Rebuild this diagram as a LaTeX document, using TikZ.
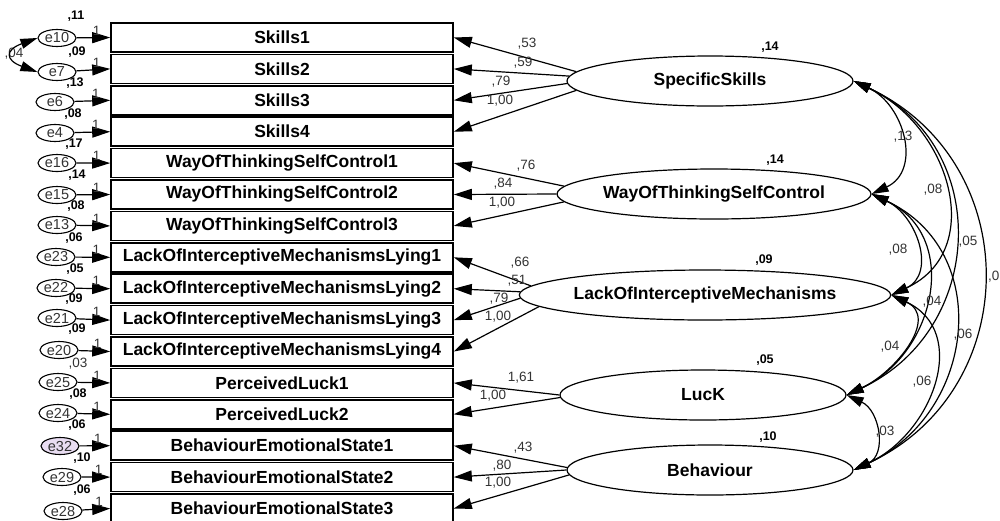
\documentclass[tikz,border=0pt]{standalone}
\usepackage{fontspec}
\setmainfont{Liberation Sans}
\usetikzlibrary{shapes.geometric,arrows.meta}
\definecolor{errfill}{HTML}{E9DDF2}
\definecolor{lblgray}{HTML}{333333}

\begin{document}
\begin{tikzpicture}[x=1pt,y=1pt]
    \tikzset{item/.style={draw, line width=1.6pt, minimum width=342pt, minimum height=29pt, inner sep=0pt, font=\fontsize{17.5}{19}\selectfont\bfseries},
             factor/.style={draw, ellipse, line width=1.2pt, minimum width=286pt, minimum height=50pt, inner sep=0pt, font=\fontsize{17.5}{20}\selectfont\bfseries},
             error/.style={draw, ellipse, line width=1.1pt, minimum width=38pt, minimum height=17pt, inner sep=0pt, text=lblgray, font=\fontsize{14.5}{16}\selectfont},
             coef/.style={text=lblgray, inner sep=0pt, font=\fontsize{13.5}{15}\selectfont},
             var/.style={inner sep=0pt, font=\fontsize{12.5}{14}\selectfont\bfseries},
             load/.style={-{Triangle[length=18pt,width=11pt]}, line width=1.2pt},
             cov/.style={{Triangle[length=17pt,width=10pt]}-{Triangle[length=17pt,width=10pt]}, line width=1.2pt},
             arcright/.style={out=-25, in=25, looseness=1.25}}
    \useasboundingbox (0,0) rectangle (1000,-520);

    % observed items
    \node[item] (sk1) at (282,-37.5) {Skills1};
    \node[item] (sk2) at (282,-68.9) {Skills2};
    \node[item] (sk3) at (282,-100.3) {Skills3};
    \node[item] (sk4) at (282,-131.7) {Skills4};
    \node[item] (wt1) at (282,-163.1) {WayOfThinkingSelfControl1};
    \node[item] (wt2) at (282,-194.5) {WayOfThinkingSelfControl2};
    \node[item] (wt3) at (282,-225.9) {WayOfThinkingSelfControl3};
    \node[item] (lm1) at (282,-257.3) {LackOfInterceptiveMechanismsLying1};
    \node[item] (lm2) at (282,-288.7) {LackOfInterceptiveMechanismsLying2};
    \node[item] (lm3) at (282,-320.1) {LackOfInterceptiveMechanismsLying3};
    \node[item] (lm4) at (282,-351.5) {LackOfInterceptiveMechanismsLying4};
    \node[item] (pl1) at (282,-382.9) {PerceivedLuck1};
    \node[item] (pl2) at (282,-414.3) {PerceivedLuck2};
    \node[item] (be1) at (282,-445.7) {BehaviourEmotionalState1};
    \node[item] (be2) at (282,-477.1) {BehaviourEmotionalState2};
    \node[item] (be3) at (282,-508.5) {BehaviourEmotionalState3};

    % error terms
    \node[error] (e10) at (57,-38) {e10};
    \node[error] (e7) at (57,-72) {e7};
    \node[error] (e6) at (55,-102) {e6};
    \node[error] (e4) at (55,-133) {e4};
    \node[error] (e16) at (57,-163) {e16};
    \node[error] (e15) at (57,-195) {e15};
    \node[error] (e13) at (57,-225) {e13};
    \node[error] (e23) at (56,-257) {e23};
    \node[error] (e22) at (56,-288) {e22};
    \node[error] (e21) at (57,-318) {e21};
    \node[error] (e20) at (59,-350) {e20};
    \node[error] (e25) at (58,-382) {e25};
    \node[error] (e24) at (58,-413) {e24};
    \node[error, fill=errfill] (e32) at (60,-446) {e32};
    \node[error] (e29) at (62,-477) {e29};
    \node[error] (e28) at (63,-511) {e28};

    \draw[load] (e10) -- (sk1.west) node[pos=0.6, above=2pt, coef] (f10) {1};
    \draw[load] (e7) -- (sk2.west) node[pos=0.6, above=2pt, coef] (f7) {1};
    \draw[load] (e6) -- (sk3.west) node[pos=0.6, above=2pt, coef] (f6) {1};
    \draw[load] (e4) -- (sk4.west) node[pos=0.6, above=2pt, coef] (f4) {1};
    \draw[load] (e16) -- (wt1.west) node[pos=0.6, above=2pt, coef] (f16) {1};
    \draw[load] (e15) -- (wt2.west) node[pos=0.6, above=2pt, coef] (f15) {1};
    \draw[load] (e13) -- (wt3.west) node[pos=0.6, above=2pt, coef] (f13) {1};
    \draw[load] (e23) -- (lm1.west) node[pos=0.6, above=2pt, coef] (f23) {1};
    \draw[load] (e22) -- (lm2.west) node[pos=0.6, above=2pt, coef] (f22) {1};
    \draw[load] (e21) -- (lm3.west) node[pos=0.6, above=2pt, coef] (f21) {1};
    \draw[load] (e20) -- (lm4.west) node[pos=0.6, above=2pt, coef] (f20) {1};
    \draw[load] (e25) -- (pl1.west) node[pos=0.6, above=2pt, coef] (f25) {1};
    \draw[load] (e24) -- (pl2.west) node[pos=0.6, above=2pt, coef] (f24) {1};
    \draw[load] (e32) -- (be1.west) node[pos=0.6, above=2pt, coef] (f32) {1};
    \draw[load] (e29) -- (be2.west) node[pos=0.6, above=2pt, coef] (f29) {1};
    \draw[load] (e28) -- (be3.west) node[pos=0.6, above=2pt, coef] (f28) {1};

    % error variances
    \node[var] (v10) at (76,-16) {,11};
    \node[var] (v7) at (77,-52) {,09};
    \node[var] (v6) at (75,-83) {,13};
    \node[var] (v4) at (73,-114) {,08};
    \node[var] (v16) at (74,-144) {,17};
    \node[var] (v15) at (77,-175) {,14};
    \node[var] (v13) at (76,-206) {,08};
    \node[var] (v23) at (74,-238) {,06};
    \node[var] (v22) at (75,-269) {,05};
    \node[var] (v21) at (74,-299) {,09};
    \node[var] (v20) at (77,-329) {,09};
    \node[coef] (v25) at (78,-364) {,03};
    \node[var] (v24) at (78,-394) {,08};
    \node[var] (v32) at (77,-425) {,06};
    \node[var] (v29) at (82,-458) {,10};
    \node[var] (v28) at (82,-490) {,06};

    % error covariance
    \node[coef] (c107) at (14,-54) {,04};
    \draw[cov] (e10.west) to[out=200, in=160, looseness=2.6] (e7.west);

    % latent factors
    \node[factor] (spec) at (710,-81) {SpecificSkills};
    \node[factor] (wayth) at (714,-194) {WayOfThinkingSelfControl};
    \node[factor] (lack) at (705,-295) {LackOfInterceptiveMechanisms};
    \node[factor] (luck) at (703,-395) {LucK};
    \node[factor] (behav) at (710,-470) {Behaviour};

    \node[var] (vspec) at (770,-47) {,14};
    \node[var] (vwayth) at (775,-160) {,14};
    \node[var] (vlack) at (764,-260) {,09};
    \node[var] (vluck) at (765,-360) {,05};
    \node[var] (vbehav) at (768,-437) {,10};

    % loadings
    \draw[load] (spec.176) -- (sk1.east);
    \draw[load] (spec.178) -- (sk2.east);
    \draw[load] (spec.181) -- (sk3.east);
    \draw[load] (spec.184) -- (sk4.east);
    \draw[load] (wayth.177) -- (wt1.east);
    \draw[load] (wayth.180) -- (wt2.east);
    \draw[load] (wayth.183) -- (wt3.east);
    \draw[load] (lack.177) -- (lm1.east);
    \draw[load] (lack.179) -- (lm2.east);
    \draw[load] (lack.181) -- (lm3.east);
    \draw[load] (lack.184) -- (lm4.east);
    \draw[load] (luck.180) -- (pl1.east);
    \draw[load] (luck.181) -- (pl2.east);
    \draw[load] (behav.179) -- (be1.east);
    \draw[load] (behav.180) -- (be2.east);
    \draw[load] (behav.182) -- (be3.east);

    \node[coef] (l1) at (527,-44) {,53};
    \node[coef] (l2) at (523,-63) {,59};
    \node[coef] (l3) at (501,-82) {,79};
    \node[coef] (l4) at (500,-101) {1,00};
    \node[coef] (l5) at (526,-166) {,76};
    \node[coef] (l6) at (503,-184) {,84};
    \node[coef] (l7) at (502,-203) {1,00};
    \node[coef] (l8) at (520,-263) {,66};
    \node[coef] (l9) at (517,-281) {,51};
    \node[coef] (l10) at (499,-299) {,79};
    \node[coef] (l11) at (498,-317) {1,00};
    \node[coef] (l12) at (521,-378) {1,61};
    \node[coef] (l13) at (493,-396) {1,00};
    \node[coef] (l14) at (523,-448) {,43};
    \node[coef] (l15) at (502,-466) {,80};
    \node[coef] (l16) at (498,-483) {1,00};

    % factor covariances
    \draw[cov] (spec.east) to[arcright] (wayth.east);
    \draw[cov] (spec.east) to[arcright] (lack.east);
    \draw[cov] (spec.east) to[arcright] (luck.east);
    \draw[cov] (spec.east) to[arcright] (behav.east);
    \draw[cov] (wayth.east) to[arcright] (lack.east);
    \draw[cov] (wayth.east) to[arcright] (luck.east);
    \draw[cov] (wayth.east) to[arcright] (behav.east);
    \draw[cov] (lack.east) to[arcright] (luck.east);
    \draw[cov] (lack.east) to[arcright] (behav.east);
    \draw[cov] (luck.east) to[arcright] (behav.east);

    \node[coef] (k1) at (903,-137) {,13};
    \node[coef] (k2) at (933,-190) {,08};
    \node[coef] (k3) at (968,-242) {,05};
    \node[coef, anchor=west] (k4) at (988,-277) {,0};
    \node[coef] (k5) at (898,-250) {,08};
    \node[coef] (k6) at (932,-302) {,04};
    \node[coef] (k7) at (963,-335) {,06};
    \node[coef] (k8) at (890,-347) {,04};
    \node[coef] (k9) at (922,-382) {,06};
    \node[coef] (k10) at (885,-432) {,03};
\end{tikzpicture}
\end{document}
